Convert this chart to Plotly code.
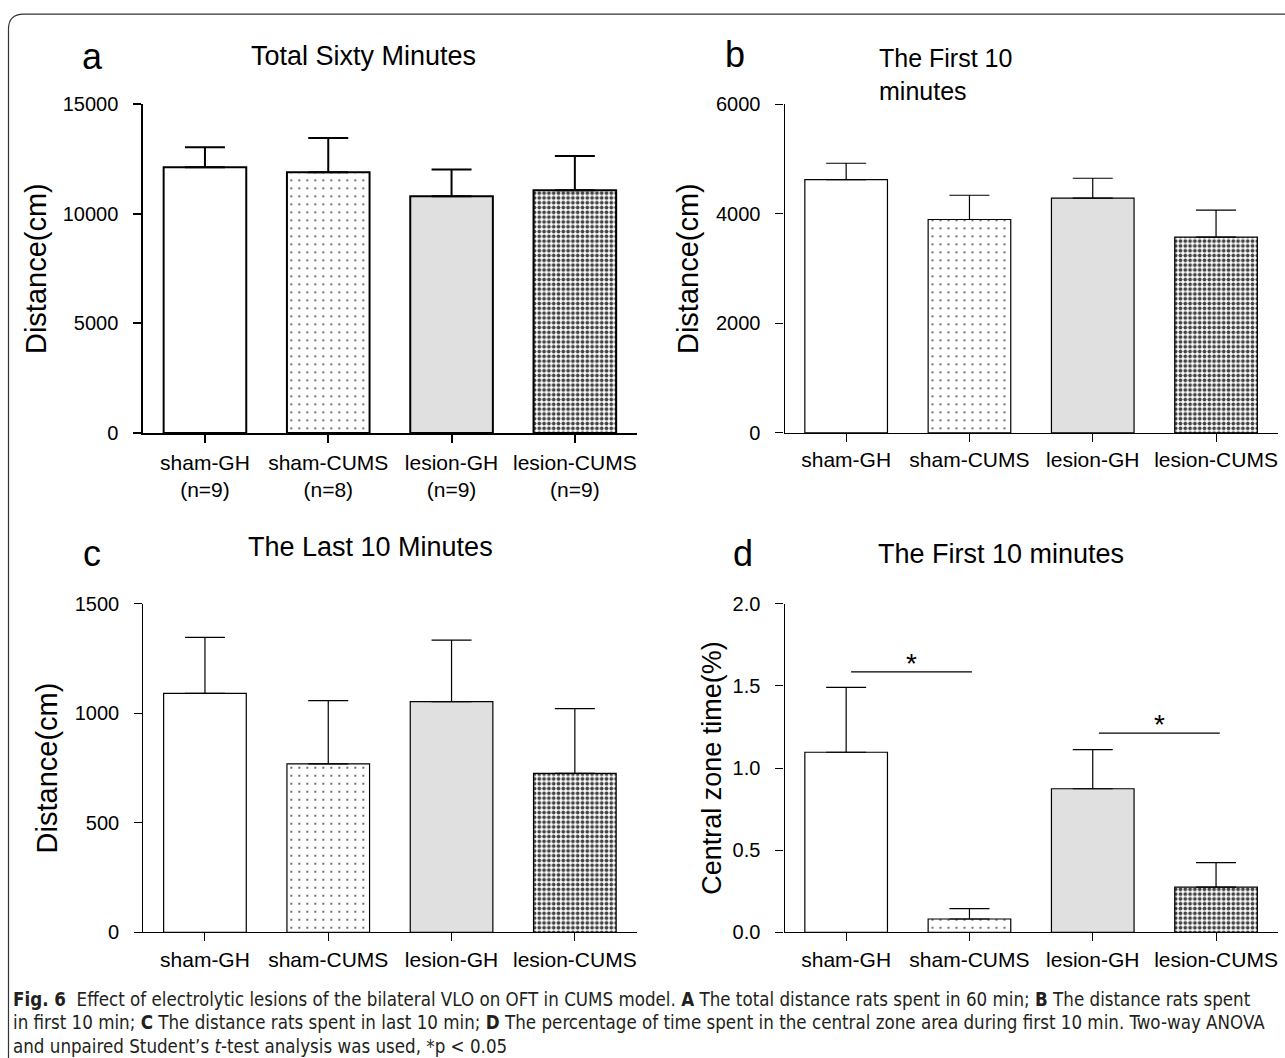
import plotly.graph_objects as go

# ---------------- data ----------------
categories = ["sham-GH", "sham-CUMS", "lesion-GH", "lesion-CUMS"]
n_labels = ["(n=9)", "(n=8)", "(n=9)", "(n=9)"]

total60_mean = [12130, 11900, 10805, 11080]
total60_err = [910, 1565, 1220, 1560]

first10_mean = [4627, 3897, 4286, 3574]
first10_err = [297, 443, 364, 493]

last10_mean = [1091, 769, 1053, 726]
last10_err = [255, 289, 281, 295]

central_mean = [1.096, 0.081, 0.874, 0.275]
central_err = [0.395, 0.063, 0.238, 0.149]

sig_pairs = [(0.04, 1.02), (2.05, 3.03)]
sig_y = [1.585, 1.212]
sig_text = ["*", "*"]

# ---------------- styling ----------------
W, H = 1285, 1058
FONT = "Liberation Sans, Arial, sans-serif"
CAPFONT = "DejaVu Sans Condensed, Liberation Sans, sans-serif"

fill_colors = ["white", "white", "#dfe0df", "white"]
pat_shapes = ["", ".", "", "."]
pat_sizes = [8, 8, 8, 4.8]
pat_solid = [0.1, 0.05, 0.1, 0.5]

# screenshot pipeline compresses slightly vertically; compensate
OFF, SC = 9.55, 0.9804


def px_x(p):
    return p / W


def px_y(p):
    return 1 - ((p - OFF) / SC) / H


panels = [
    ("", total60_mean, total60_err, 15000, 5000, (143.3, 636.5), (432, 103), 2.0),
    ("2", first10_mean, first10_err, 6000, 2000, (784.5, 1277.7), (432, 103), 1.2),
    ("3", last10_mean, last10_err, 1500, 500, (143.3, 636.5), (932, 603), 1.2),
    ("4", central_mean, central_err, 2.0, 0.5, (784.5, 1277.7), (932, 603), 1.2),
]

fig = go.Figure()
layout_axes = {}
for i, (k, means, errs, ymax, dt, xd, yd, lw) in enumerate(panels):
    if i == 0:
        ticktext = [f"{c}<br>{n}" for c, n in zip(categories, n_labels)]
    else:
        ticktext = categories
    fig.add_trace(go.Bar(
        x=categories, y=means,
        xaxis="x" + k, yaxis="y" + k,
        width=0.67,
        marker=dict(
            color=fill_colors,
            line=dict(color="black", width=lw),
            pattern=dict(shape=pat_shapes, size=pat_sizes, solidity=pat_solid,
                         fgcolor="black", bgcolor=fill_colors, fgopacity=1,
                         fillmode="overlay"),
        ),
        error_y=dict(type="data", array=errs, arrayminus=[0] * len(errs),
                     symmetric=False, color="black", thickness=lw, width=20),
        showlegend=False,
    ))
    layout_axes["xaxis" + k] = dict(
        domain=[px_x(xd[0]), px_x(xd[1])],
        anchor="y" + k,
        range=[-0.5, 3.5],
        tickmode="array", tickvals=categories, ticktext=ticktext,
        showline=True, linecolor="black", linewidth=lw,
        ticks="outside", ticklen=8, tickwidth=lw, tickcolor="black",
        showgrid=False, zeroline=False,
        ticklabelstandoff=2 if i == 0 else 0,
        tickfont=dict(family=FONT, size=21, color="black"),
    )
    ytitle = "Central zone time(%)" if i == 3 else "Distance(cm)"
    layout_axes["yaxis" + k] = dict(
        domain=[px_y(yd[0]), px_y(yd[1])],
        anchor="x" + k,
        range=[0, ymax], dtick=dt, tick0=0,
        tickformat=".1f" if i == 3 else "d",
        showline=True, linecolor="black", linewidth=lw,
        ticks="outside", ticklen=8, tickwidth=lw, tickcolor="black",
        showgrid=False, zeroline=False,
        ticklabelstandoff=11,
        tickfont=dict(family=FONT, size=20, color="black"),
        title=dict(text=ytitle,
                   font=dict(family=FONT, size=27 if i == 3 else 29, color="black"),
                   standoff=8 if i != 3 else 3),
    )

shapes = []
annotations = []
for (x0, x1), yv, t in zip(sig_pairs, sig_y, sig_text):
    shapes.append(dict(type="line", xref="x4", yref="y4", x0=x0, x1=x1, y0=yv, y1=yv,
                       line=dict(color="black", width=1.2)))
    annotations.append(dict(xref="x4", yref="y4", x=(x0 + x1) / 2, y=yv, text=t,
                            showarrow=False, yanchor="bottom", yshift=-9,
                            font=dict(family=FONT, size=28, color="black")))

# frame (rounded top-left corner)
fx, fy, r = 8.5, 12.7, 15
path = (f"M {px_x(fx)},{-0.02} L {px_x(fx)},{px_y(fy + r)} "
        f"Q {px_x(fx)},{px_y(fy)} {px_x(fx + r)},{px_y(fy)} L 1.01,{px_y(fy)}")
shapes.append(dict(type="path", xref="paper", yref="paper", path=path,
                   line=dict(color="#333333", width=1.2)))

letters = [("a", 92, 55), ("b", 735, 53), ("c", 92, 553), ("d", 743, 553)]
for t, x, y in letters:
    annotations.append(dict(xref="paper", yref="paper", x=px_x(x), y=px_y(y), text=t,
                            showarrow=False, xanchor="center", yanchor="middle",
                            font=dict(family=FONT, size=36, color="black")))

titles = [
    ("Total Sixty Minutes", 363, 55, "center", 27),
    ("The First 10<br>minutes", 877, 73, "left", 25),
    ("The Last 10 Minutes", 371, 546, "center", 27),
    ("The First 10 minutes", 1001, 553, "center", 27),
]
for t, x, y, anc, fs in titles:
    annotations.append(dict(xref="paper", yref="paper", x=px_x(x), y=px_y(y), text=t,
                            showarrow=False, xanchor=anc, yanchor="middle", align="left",
                            font=dict(family=FONT, size=fs, color="black")))

caption_lines = [
    "<b>Fig. 6</b>  Effect of electrolytic lesions of the bilateral VLO on OFT in CUMS model. "
    "<b>A</b> The total distance rats spent in 60 min; <b>B</b> The distance rats spent",
    "in first 10 min; <b>C</b> The distance rats spent in last 10 min; <b>D</b> The percentage of "
    "time spent in the central zone area during first 10 min. Two-way ANOVA",
    "and unpaired Student’s <i>t</i>-test analysis was used, *p &lt; 0.05",
]
for j, line in enumerate(caption_lines):
    annotations.append(dict(xref="paper", yref="paper", x=px_x(11), y=px_y(999 + 23.5 * j),
                            text=line, showarrow=False, xanchor="left", yanchor="middle",
                            font=dict(family=CAPFONT, size=18.6, color="#231f20")))

fig.update_layout(
    width=W, height=H, autosize=False,
    margin=dict(l=0, r=0, t=0, b=0),
    paper_bgcolor="white", plot_bgcolor="white",
    shapes=shapes, annotations=annotations,
    **layout_axes,
)

fig.write_html(
    "out.html",
    config={"displayModeBar": False},
    post_script="document.body.style.margin='0';document.body.style.overflow='hidden';",
)
